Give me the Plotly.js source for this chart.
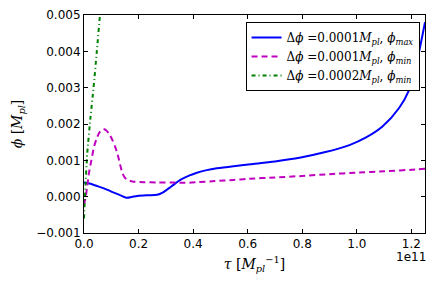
<!DOCTYPE html>
<html><head><meta charset="utf-8">
<script src="https://cdn.plot.ly/plotly-3.0.1.min.js"></script>
<style>body{margin:0;padding:0;background:#fff}#plot{width:436px;height:291px}</style>
</head><body><div id="plot"></div>
<script>
// tau in units of 1e11 M_pl^-1, phi in M_pl
const tauBlue = [0, 0.02, 0.045, 0.073, 0.1, 0.13, 0.156, 0.175, 0.195, 0.23, 0.268, 0.29, 0.32, 0.353, 0.385, 0.414, 0.45, 0.487, 0.548, 0.62, 0.7, 0.79, 0.881, 0.973, 1.034, 1.094, 1.155, 1.192, 1.216, 1.235, 1.25];
const phiBlue = [0.00039, 0.00036, 0.0003, 0.00023, 0.00014, 0.00005, -0.00003, -0.00001, 0.00002, 0.00004, 0.00005, 0.00012, 0.00028, 0.00046, 0.00058, 0.00066, 0.00073, 0.00078, 0.00084, 0.0009, 0.00097, 0.00107, 0.00122, 0.00142, 0.00163, 0.00193, 0.00244, 0.00294, 0.00358, 0.00423, 0.0048];

const tauMag = [0, 0.006, 0.012, 0.018, 0.027, 0.037, 0.048, 0.058, 0.071, 0.082, 0.093, 0.104, 0.113, 0.122, 0.131, 0.14, 0.149, 0.158, 0.17, 0.183, 0.22, 0.27, 0.32, 0.37, 0.42, 0.48, 0.548, 0.6, 0.7, 0.8, 0.9, 1.0, 1.1, 1.221, 1.25];
const phiMag = [-0.00023, -0.00002, 0.0003, 0.00064, 0.001, 0.00138, 0.00163, 0.00178, 0.00186, 0.00182, 0.00172, 0.00156, 0.0014, 0.0012, 0.00093, 0.00066, 0.00053, 0.00046, 0.00043, 0.00041, 0.0004, 0.00039, 0.00039, 0.00038, 0.0004, 0.00043, 0.00046, 0.00049, 0.00053, 0.00057, 0.00062, 0.00066, 0.0007, 0.00075, 0.00077];

const tauGreen = [0, 0.004, 0.012, 0.024, 0.035, 0.047, 0.0585, 0.07];
const phiGreen = [-0.0006, 0.0001, 0.0012, 0.0022, 0.003, 0.004, 0.005, 0.006];

const names = [
  "Δ<i>ϕ</i> =0.0001<i>M</i><sub><i>pl</i></sub>, <i>ϕ</i><sub><i>max</i></sub>",
  "Δ<i>ϕ</i> =0.0001<i>M</i><sub><i>pl</i></sub>, <i>ϕ</i><sub><i>min</i></sub>",
  "Δ<i>ϕ</i> =0.0002<i>M</i><sub><i>pl</i></sub>, <i>ϕ</i><sub><i>min</i></sub>"
];
const xTicks = [0, 0.2, 0.4, 0.6, 0.8, 1.0, 1.2];
const yTicks = [-0.001, 0, 0.001, 0.002, 0.003, 0.004, 0.005];

const traces = [
  {x: tauBlue, y: phiBlue, name: names[0], mode: 'lines', line: {color: '#0000ff', width: 2, shape: 'spline', smoothing: 0.8}},
  {x: tauMag, y: phiMag, name: names[1], mode: 'lines', line: {color: '#bf00bf', width: 2, dash: '6px,4px', shape: 'spline', smoothing: 0.6}},
  {x: tauGreen, y: phiGreen, name: names[2], mode: 'lines', line: {color: '#008000', width: 2, dash: '4px,3px,1px,3px', shape: 'spline', smoothing: 0.5}}
];

const axisCommon = {
  showline: true, linecolor: '#000', linewidth: 1, mirror: 'ticks',
  ticks: 'inside', ticklen: 4, tickcolor: '#000', showgrid: false, zeroline: false,
  tickfont: {family: 'DejaVu Sans', size: 12, color: '#000'}
};

const layout = {
  width: 436, height: 291,
  margin: {l: 84, r: 11, t: 15, b: 58},
  paper_bgcolor: '#fff', plot_bgcolor: '#fff',
  showlegend: true,
  legend: {
    x: 0.984, y: 0.968, xanchor: 'right', yanchor: 'top',
    bgcolor: '#fff', bordercolor: '#000', borderwidth: 1,
    font: {family: 'DejaVu Serif', size: 12, color: '#000'},
    tracegroupgap: 0
  },
  xaxis: Object.assign({}, axisCommon, {
    range: [0, 1.25], tickvals: xTicks, tickformat: '.1f',
    title: {text: '<i>τ</i> [<i>M</i><sub><i>pl</i></sub><sup>−1</sup>]', font: {family: 'DejaVu Serif', size: 14, color: '#000'}, standoff: 8}
  }),
  yaxis: Object.assign({}, axisCommon, {
    range: [-0.001, 0.005], tickvals: yTicks, tickformat: '.3f',
    title: {text: '<i>ϕ</i> [<i>M</i><sub><i>pl</i></sub>]', font: {family: 'DejaVu Serif', size: 14, color: '#000'}, standoff: 10}
  }),
  annotations: [{
    text: '1e11', xref: 'paper', yref: 'paper', x: 1.0, y: -0.11,
    xanchor: 'right', yanchor: 'middle', xshift: 3, showarrow: false,
    font: {family: 'DejaVu Sans', size: 12, color: '#000'}
  }]
};

Plotly.newPlot('plot', traces, layout, {staticPlot: true, displayModeBar: false});
</script>
</body></html>
